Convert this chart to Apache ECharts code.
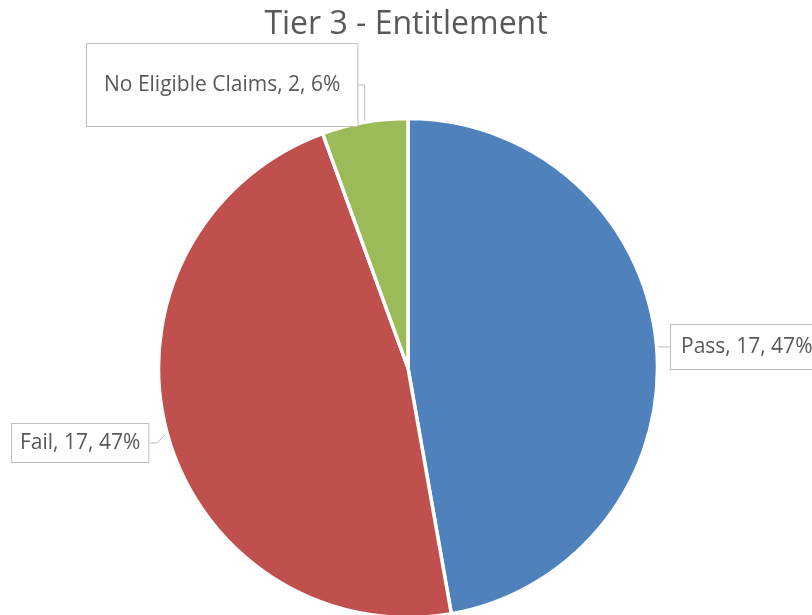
<!DOCTYPE html>
<html>
<head>
<meta charset="utf-8">
<script src="https://cdn.jsdelivr.net/npm/echarts@6/dist/echarts.min.js"></script>
<style>
html,body{margin:0;padding:0;background:#fff;}
#chart{width:812px;height:615px;}
</style>
</head>
<body>
<div id="chart"></div>
<script>
const categories = ['Pass', 'Fail', 'No Eligible Claims'];
const values = [17, 17, 2];
const percentLabels = ['47%', '47%', '6%'];
const colors = ['#4F81BD', '#C0504D', '#9BBB59'];

const labelBoxes = [
  {x: 671, y: 347, padding: [11, 10], width: 150},
  {x: 12, y: 443, padding: [8, 8]},
  {x: 87, y: 85, padding: [30, 17]}
];

const chart = echarts.init(document.getElementById('chart'));
chart.setOption({
  animation: false,
  backgroundColor: '#ffffff',
  title: {
    text: 'Tier 3 - Entitlement',
    left: 'center',
    top: 1,
    textStyle: {fontFamily: 'Open Sans', fontSize: 32, lineHeight: 38, fontWeight: 'normal', color: '#595959'}
  },
  series: [{
    type: 'pie',
    center: [408, 368],
    radius: 249.5,
    startAngle: 90,
    clockwise: true,
    data: categories.map((c, i) => {
      const lbl = {padding: labelBoxes[i].padding};
      if (labelBoxes[i].width) { lbl.width = labelBoxes[i].width; }
      return {
        name: c,
        value: values[i],
        itemStyle: {color: colors[i]},
        label: lbl
      };
    }),
    itemStyle: {borderColor: '#ffffff', borderWidth: 3.5},
    label: {
      show: true,
      position: 'outside',
      formatter: p => `${p.name}, ${p.value}, ${percentLabels[p.dataIndex]}`,
      fontFamily: 'Open Sans',
      fontSize: 21,
      lineHeight: 22,
      color: '#595959',
      backgroundColor: '#ffffff',
      borderColor: '#bfbfbf',
      borderWidth: 1,
      overflow: 'none'
    },
    labelLine: {show: true, length: 8, length2: 8, lineStyle: {color: '#bfbfbf', width: 1}},
    labelLayout: params => {
      const b = labelBoxes[params.dataIndex];
      return {x: b.x, y: b.y, align: 'left', verticalAlign: 'middle'};
    },
    emphasis: {disabled: true}
  }]
});
</script>
</body>
</html>
